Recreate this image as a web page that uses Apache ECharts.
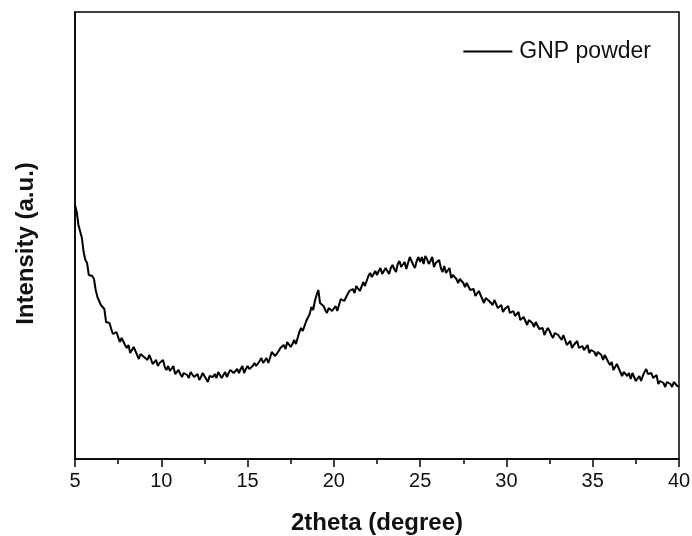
<!DOCTYPE html>
<html>
<head>
<meta charset="utf-8">
<script src="https://cdn.jsdelivr.net/npm/echarts@6/dist/echarts.min.js"></script>
<style>
html, body { margin: 0; padding: 0; background: #fff; }
#main { width: 692px; height: 536px; }
</style>
</head>
<body>
<div id="main"></div>
<script>
// 2theta scan: start 5 deg, step 0.1 deg
const thetaStart = 5
const thetaStep = 0.1
const intensity = [
  254, 247, 234, 232, 221, 207, 199, 196, 184, 184, 183, 180, 169, 162, 162, 154, 153, 150, 137, 137,
  136, 130, 125, 127, 127, 122, 117, 121, 122, 114, 111, 114, 106, 109, 112, 108, 104, 100, 105, 106,
  102, 104, 99, 104, 100, 95, 97, 99, 93, 96, 98, 99, 92, 89, 93, 88, 90, 93, 85, 87,
  89, 85, 82, 86, 88, 84, 81, 87, 89, 82, 81, 85, 79, 82, 86, 83, 80, 77, 83, 85,
  82, 85, 81, 87, 85, 81, 84, 87, 82, 86, 89, 91, 86, 84, 90, 86, 90, 93, 86, 90,
  93, 90, 88, 93, 96, 93, 91, 98, 101, 96, 96, 101, 96, 101, 107, 105, 103, 101, 108, 111,
  110, 114, 110, 117, 115, 112, 115, 119, 115, 121, 127, 131, 128, 129, 138, 138, 145, 152, 149, 158,
  164, 169, 156, 155, 153, 149, 146, 151, 153, 148, 149, 153, 148, 154, 160, 159, 158, 157, 165, 168,
  166, 170, 166, 173, 171, 168, 172, 177, 173, 178, 183, 186, 182, 181, 188, 184, 188, 191, 185, 188,
  191, 188, 185, 191, 194, 190, 187, 195, 198, 192, 191, 197, 190, 196, 202, 198, 194, 191, 198, 202,
  197, 202, 195, 203, 200, 195, 198, 202, 192, 196, 198, 199, 191, 187, 193, 186, 188, 191, 181, 184,
  185, 180, 176, 180, 181, 176, 172, 176, 176, 169, 167, 170, 163, 165, 168, 164, 160, 156, 161, 162,
  158, 160, 154, 159, 155, 151, 152, 154, 147, 150, 152, 153, 146, 144, 148, 143, 145, 147, 139, 141,
  142, 138, 134, 139, 140, 136, 132, 137, 138, 130, 128, 131, 124, 128, 131, 128, 124, 121, 126, 128,
  124, 125, 119, 124, 119, 114, 115, 118, 111, 114, 116, 118, 111, 109, 113, 109, 111, 114, 106, 109,
  110, 107, 103, 107, 108, 104, 99, 104, 104, 97, 94, 97, 89, 92, 95, 91, 87, 83, 87, 88,
  83, 86, 80, 86, 82, 78, 80, 83, 78, 83, 87, 90, 85, 83, 86, 81, 82, 84, 75, 78,
  79, 76, 72, 77, 79, 75, 72, 77, 79, 73, 72
]
const xTicks = [5, 10, 15, 20, 25, 30, 35, 40]

const points = intensity.map((v, i) => [+(thetaStart + i * thetaStep).toFixed(1), v])

const font = 'Liberation Sans, Arial, Helvetica, sans-serif'
const chart = echarts.init(document.getElementById('main'))
chart.setOption({
  backgroundColor: '#fff',
  animation: false,
  grid: {
    left: 75,
    right: 13,
    top: 12,
    bottom: 77,
    outerBoundsMode: 'none',
    containLabel: false,
    show: true,
    borderColor: '#000',
    borderWidth: 1.5
  },
  legend: {
    data: ['GNP powder'],
    right: 36,
    top: 35,
    icon: 'rect',
    itemWidth: 49,
    itemHeight: 2,
    itemGap: 10,
    textStyle: { color: '#111', fontSize: 23, fontFamily: font, padding: [0, 0, 0, 2] }
  },
  xAxis: {
    type: 'value',
    min: 5,
    max: 40,
    interval: 5,
    name: '2theta (degree)',
    nameLocation: 'middle',
    nameGap: 52,
    nameTextStyle: { color: '#111', fontSize: 24, fontWeight: 'bold', fontFamily: font },
    axisLine: { show: true, lineStyle: { color: '#000', width: 1.5 } },
    axisTick: { show: true, inside: false, length: 8, lineStyle: { color: '#000', width: 1.5 } },
    minorTick: { show: true, splitNumber: 2, length: 5, lineStyle: { color: '#000', width: 1.5 } },
    axisLabel: {
      color: '#111',
      fontSize: 20,
      fontFamily: font,
      margin: 12,
      formatter: v => xTicks.includes(v) ? String(v) : ''
    },
    splitLine: { show: false }
  },
  yAxis: {
    type: 'value',
    min: 0,
    max: 447,
    name: 'Intensity (a.u.)',
    nameLocation: 'middle',
    nameGap: 37,
    nameTextStyle: { color: '#111', fontSize: 24, fontWeight: 'bold', fontFamily: font, padding: [0, 16, 0, 0] },
    axisLine: { show: true, lineStyle: { color: '#000', width: 1.5 } },
    axisTick: { show: false },
    axisLabel: { show: false },
    splitLine: { show: false }
  },
  series: [
    {
      name: 'GNP powder',
      type: 'line',
      data: points,
      symbol: 'none',
      smooth: false,
      lineStyle: { color: '#000', width: 2 },
      itemStyle: { color: '#000' }
    }
  ]
})
</script>
</body>
</html>
